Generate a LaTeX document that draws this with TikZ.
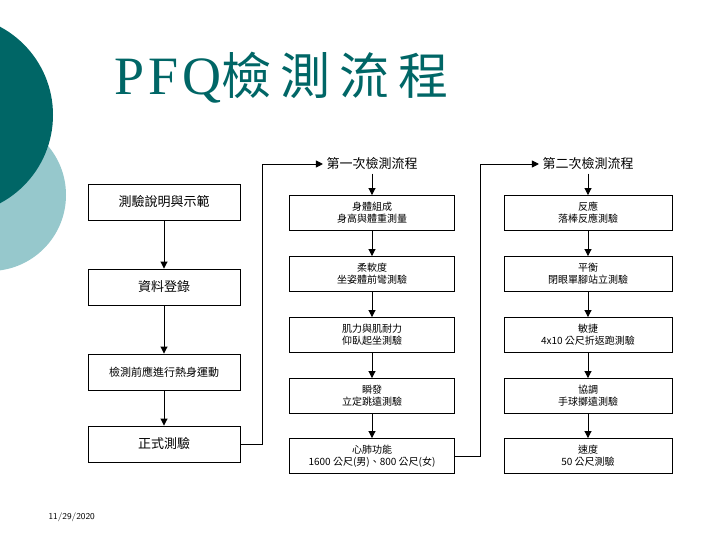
\documentclass[tikz,border=0pt]{standalone}
\usepackage{fontspec}
\setmainfont{Liberation Serif}
\newfontfamily\cjk{Noto Sans CJK TC}
\newfontfamily\titlelat[LetterSpace=8]{Liberation Serif}
\newfontfamily\titlecjk[LetterSpace=18]{Noto Sans CJK TC}
\usetikzlibrary{positioning,arrows.meta}
\definecolor{darkteal}{RGB}{0,102,102}
\definecolor{lightteal}{RGB}{150,200,204}
\begin{document}
\begin{tikzpicture}[x=1pt,y=-1pt,
    box/.style={draw,line width=0.9pt,minimum height=36pt,align=center,font=\cjk\fontsize{10}{12}\selectfont,inner sep=1pt},
    lbox/.style={box,minimum width=152pt,font=\cjk\fontsize{13}{15}\selectfont},
    mbox/.style={box,minimum width=165pt,minimum height=35pt},
    flow/.style={-{Triangle[length=7pt,width=7pt]},line width=0.9pt}]
    % Background
    \useasboundingbox (0,0) rectangle (720,540);
    \fill[white] (0,0) rectangle (720,540);
    \fill[lightteal] (-10,195) circle (76);
    \fill[darkteal] (-47,115) circle (100);
    % Title
    \node[anchor=west,text=darkteal,inner sep=0pt] (title) at (114,78) {{\titlelat\fontsize{54}{56}\selectfont PFQ}{\titlecjk\fontsize{50}{52}\selectfont 檢測流程}};
    \node[anchor=west,font=\sffamily\fontsize{9}{10}\selectfont] (date) at (45,517) {11/29/2020};
    % Left column
    \node[lbox] (l1) at (164,202) {測驗說明與示範};
    \node[lbox] (l2) at (164,287) {資料登錄};
    \node[lbox,font=\cjk\fontsize{11}{13}\selectfont] (l3) at (164,372) {檢測前應進行熱身運動};
    \node[lbox] (l4) at (164,444) {正式測驗};
    \foreach \a/\b in {l1/l2,l2/l3,l3/l4} \draw[flow] (\a) -- (\b);
    % First round
    \node[font=\cjk\fontsize{13}{15}\selectfont] (h1) at (372,164) {第一次檢測流程};
    \node[mbox] (m1) at (372,213) {身體組成\\身高與體重測量};
    \node[mbox] (m2) at (372,274) {柔軟度\\坐姿體前彎測驗};
    \node[mbox] (m3) at (372,335) {肌力與肌耐力\\仰臥起坐測驗};
    \node[mbox] (m4) at (372,396) {瞬發\\立定跳遠測驗};
    \node[mbox] (m5) at (372,456) {心肺功能\\1600 公尺(男)、800 公尺(女)};
    \foreach \a/\b in {h1/m1,m1/m2,m2/m3,m3/m4,m4/m5} \draw[flow] (\a) -- (\b);
    % Second round
    \node[font=\cjk\fontsize{13}{15}\selectfont] (h2) at (588,164) {第二次檢測流程};
    \node[mbox,minimum width=168pt] (r1) at (588,213) {反應\\落棒反應測驗};
    \node[mbox,minimum width=168pt] (r2) at (588,274) {平衡\\閉眼單腳站立測驗};
    \node[mbox,minimum width=168pt] (r3) at (588,335) {敏捷\\4x10 公尺折返跑測驗};
    \node[mbox,minimum width=168pt] (r4) at (588,396) {協調\\手球擲遠測驗};
    \node[mbox,minimum width=168pt] (r5) at (588,456) {速度\\50 公尺測驗};
    \foreach \a/\b in {h2/r1,r1/r2,r2/r3,r3/r4,r4/r5} \draw[flow] (\a) -- (\b);
    % Links between columns
    \draw[flow] (l4.east) -- ++(22,0) |- (h1.west);
    \draw[flow] (m5.east) -- ++(25,0) |- (h2.west);
\end{tikzpicture}
\end{document}
